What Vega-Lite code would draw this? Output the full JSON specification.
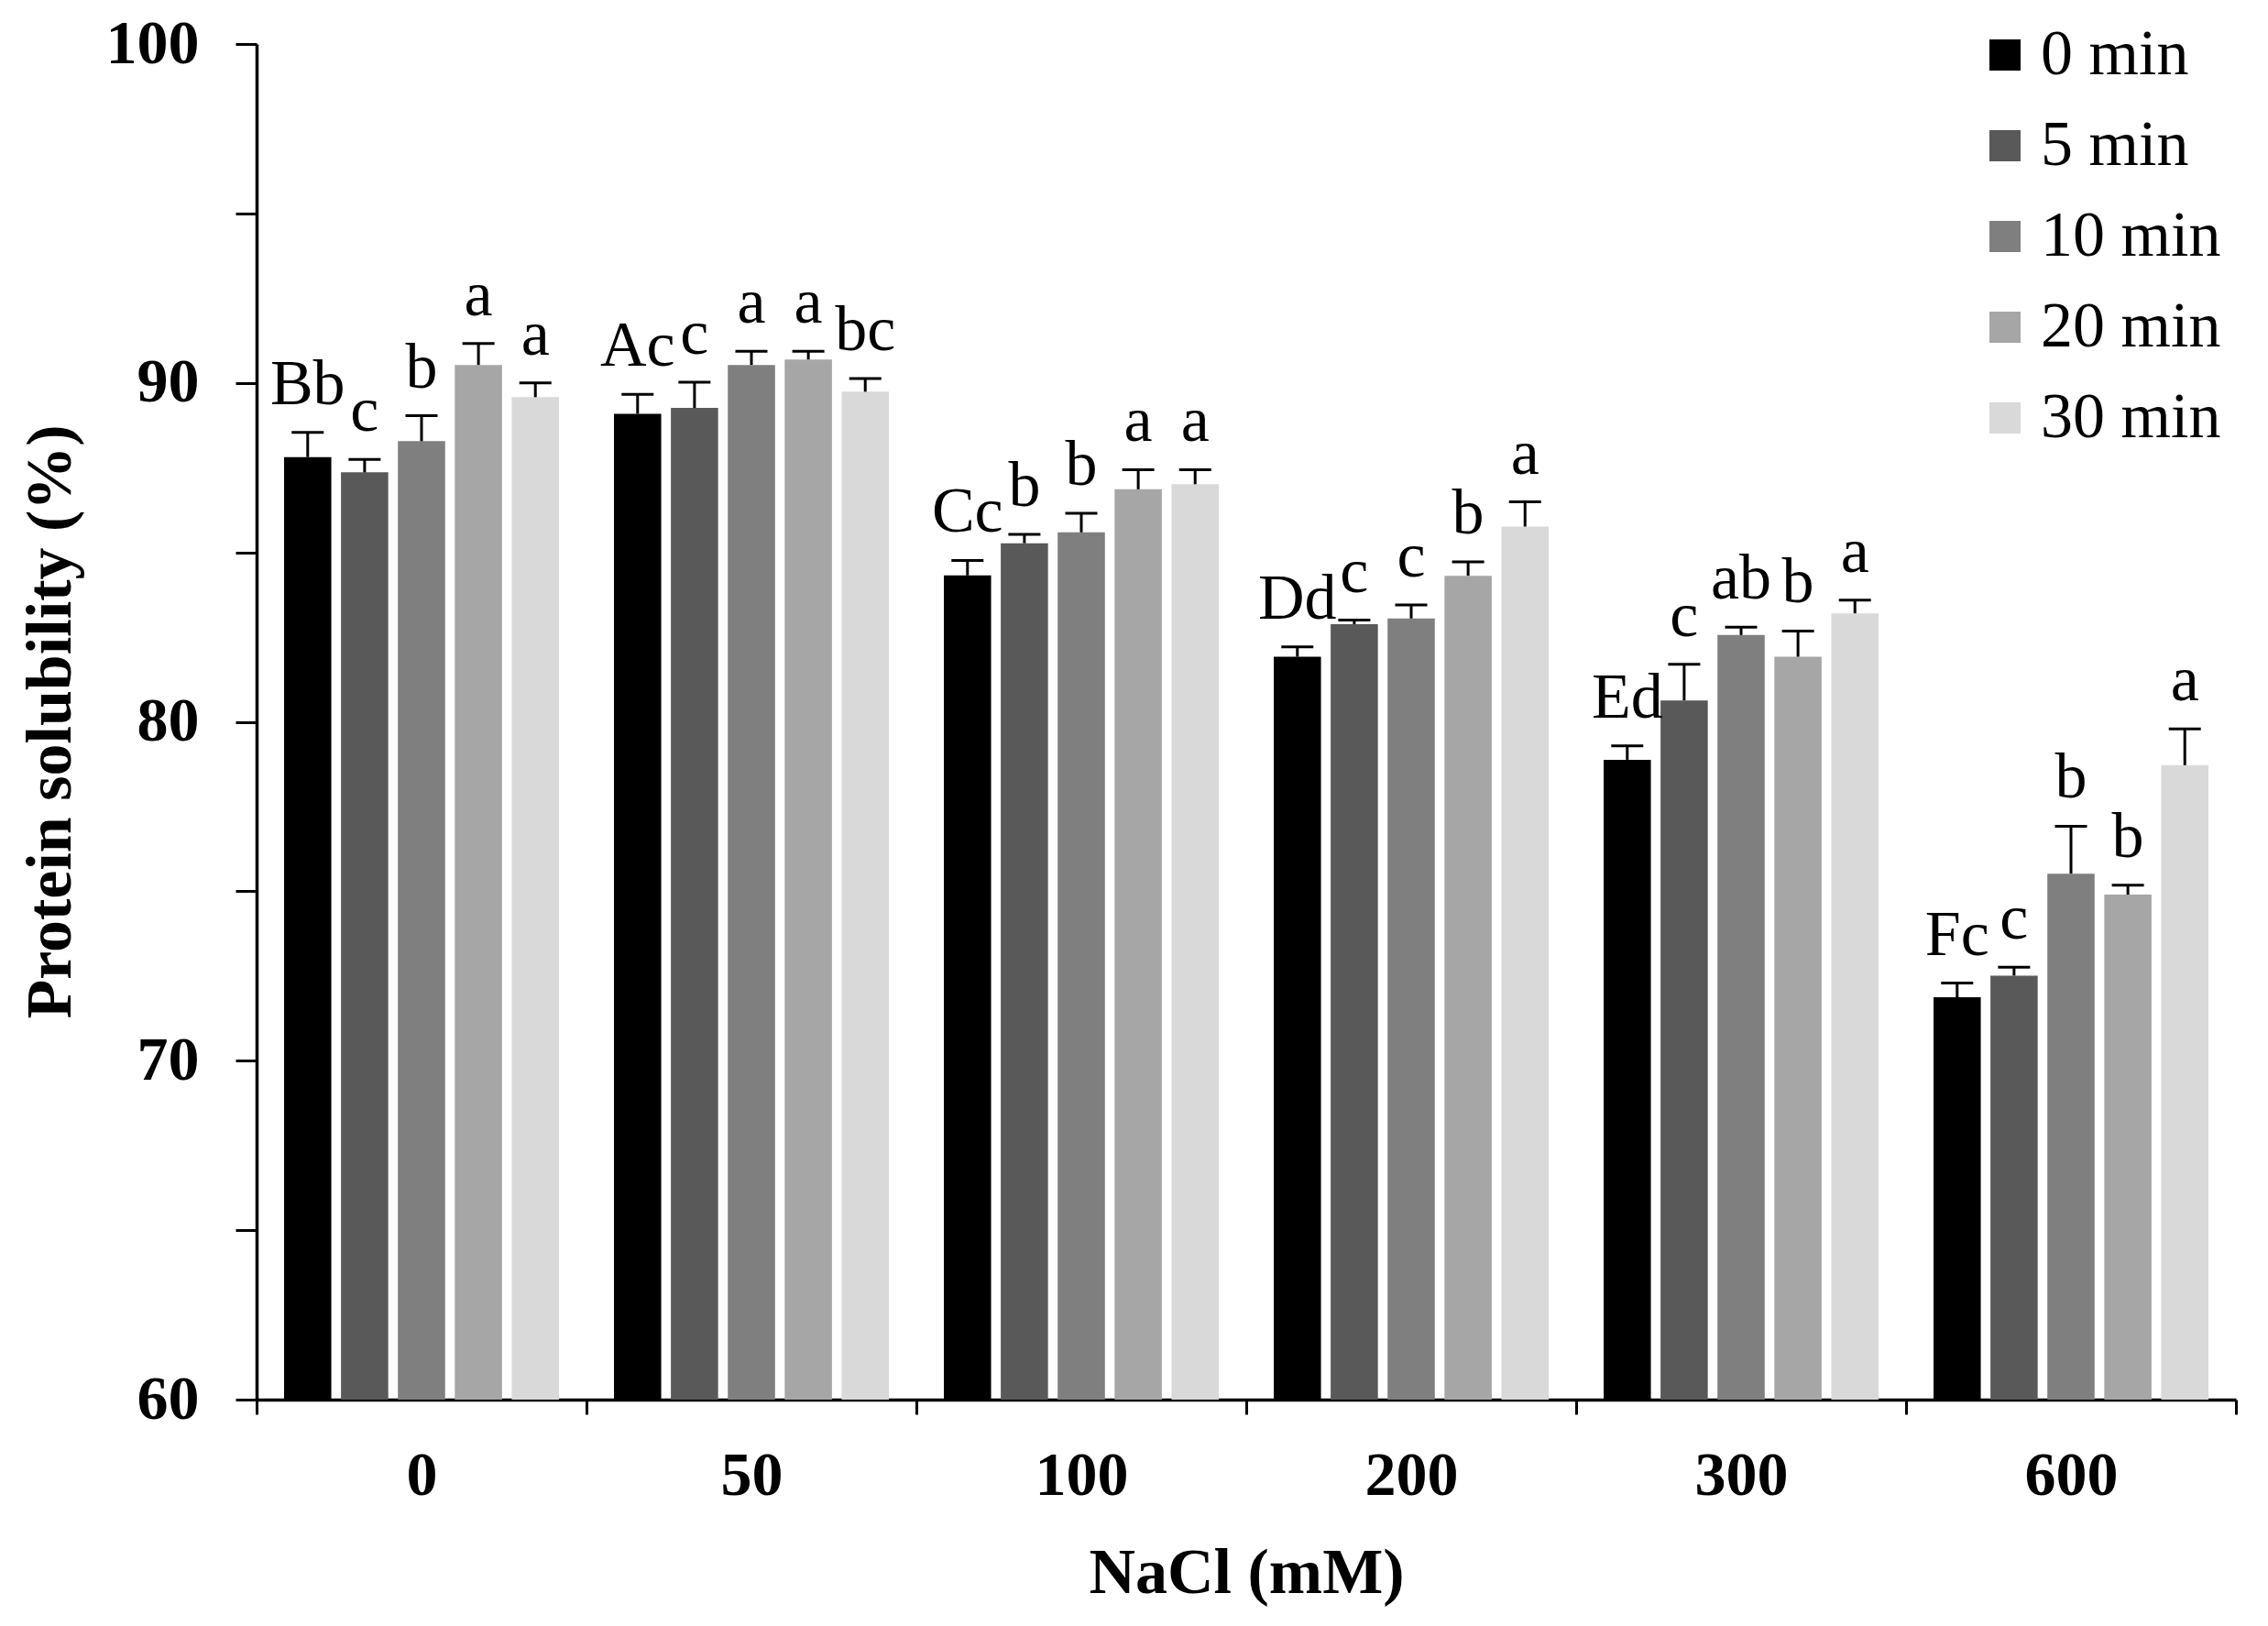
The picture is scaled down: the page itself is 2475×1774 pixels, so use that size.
{
  "$schema": "https://vega.github.io/schema/vega-lite/v6.json",
  "autosize": {"type": "none"},
  "width": 2160,
  "height": 1479,
  "padding": {"left": 280, "top": 48, "right": 35, "bottom": 247},
  "background": "white",
  "config": {
    "view": {"stroke": null},
    "font": "Liberation Serif",
    "axis": {"labelFont": "Liberation Serif", "titleFont": "Liberation Serif", "domainColor": "black", "tickColor": "black", "labelColor": "black", "titleColor": "black"},
    "legend": {"labelFont": "Liberation Serif"}
  },
  "data": {
    "values": [
      {"nacl": "0", "time": "0 min", "mean": 87.81, "upper": 88.54, "label": "Bb"},
      {"nacl": "0", "time": "5 min", "mean": 87.36, "upper": 87.74, "label": "c"},
      {"nacl": "0", "time": "10 min", "mean": 88.28, "upper": 89.03, "label": "b"},
      {"nacl": "0", "time": "20 min", "mean": 90.53, "upper": 91.16, "label": "a"},
      {"nacl": "0", "time": "30 min", "mean": 89.58, "upper": 90.0, "label": "a"},
      {"nacl": "50", "time": "0 min", "mean": 89.09, "upper": 89.66, "label": "Ac"},
      {"nacl": "50", "time": "5 min", "mean": 89.26, "upper": 90.02, "label": "c"},
      {"nacl": "50", "time": "10 min", "mean": 90.53, "upper": 90.93, "label": "a"},
      {"nacl": "50", "time": "20 min", "mean": 90.69, "upper": 90.93, "label": "a"},
      {"nacl": "50", "time": "30 min", "mean": 89.74, "upper": 90.13, "label": "bc"},
      {"nacl": "100", "time": "0 min", "mean": 84.32, "upper": 84.76, "label": "Cc"},
      {"nacl": "100", "time": "5 min", "mean": 85.27, "upper": 85.53, "label": "b"},
      {"nacl": "100", "time": "10 min", "mean": 85.59, "upper": 86.15, "label": "b"},
      {"nacl": "100", "time": "20 min", "mean": 86.86, "upper": 87.44, "label": "a"},
      {"nacl": "100", "time": "30 min", "mean": 87.01, "upper": 87.44, "label": "a"},
      {"nacl": "200", "time": "0 min", "mean": 81.92, "upper": 82.21, "label": "Dd"},
      {"nacl": "200", "time": "5 min", "mean": 82.88, "upper": 83.0, "label": "c"},
      {"nacl": "200", "time": "10 min", "mean": 83.05, "upper": 83.45, "label": "c"},
      {"nacl": "200", "time": "20 min", "mean": 84.31, "upper": 84.72, "label": "b"},
      {"nacl": "200", "time": "30 min", "mean": 85.76, "upper": 86.49, "label": "a"},
      {"nacl": "300", "time": "0 min", "mean": 78.88, "upper": 79.29, "label": "Ed"},
      {"nacl": "300", "time": "5 min", "mean": 80.63, "upper": 81.7, "label": "c"},
      {"nacl": "300", "time": "10 min", "mean": 82.56, "upper": 82.79, "label": "ab"},
      {"nacl": "300", "time": "20 min", "mean": 81.92, "upper": 82.68, "label": "b"},
      {"nacl": "300", "time": "30 min", "mean": 83.2, "upper": 83.59, "label": "a"},
      {"nacl": "600", "time": "0 min", "mean": 71.87, "upper": 72.29, "label": "Fc"},
      {"nacl": "600", "time": "5 min", "mean": 72.51, "upper": 72.76, "label": "c"},
      {"nacl": "600", "time": "10 min", "mean": 75.52, "upper": 76.92, "label": "b"},
      {"nacl": "600", "time": "20 min", "mean": 74.9, "upper": 75.18, "label": "b"},
      {"nacl": "600", "time": "30 min", "mean": 78.72, "upper": 79.79, "label": "a"}
    ]
  },
  "encoding": {
    "x": {
      "field": "nacl", "type": "nominal", "sort": ["0", "50", "100", "200", "300", "600"],
      "scale": {"paddingInner": 0, "paddingOuter": 0},
      "axis": {
        "title": "NaCl (mM)", "titleFontSize": 70, "titleFontWeight": "bold", "titleBaseline": "alphabetic", "titleY": 210,
        "labelAngle": 0, "labelFontSize": 68, "labelFontWeight": "bold", "labelBaseline": "alphabetic", "labelPadding": 87,
        "tickBand": "extent", "tickSize": 16, "tickWidth": 3, "domainWidth": 3.5, "grid": false
      }
    },
    "xOffset": {"field": "time", "type": "nominal", "sort": ["0 min", "5 min", "10 min", "20 min", "30 min"], "scale": {"paddingInner": 0.17, "paddingOuter": 0.483}}
  },
  "layer": [
    {
      "mark": {"type": "bar", "clip": true},
      "encoding": {
        "y": {
          "field": "mean", "type": "quantitative",
          "scale": {"domain": [60, 100], "zero": false, "nice": false},
          "axis": {
            "title": "Protein solubility (%)", "titleFontSize": 70, "titleFontWeight": "bold",
            "titleAngle": 270, "titleX": -225, "titleY": 739, "titleAlign": "center", "titleBaseline": "middle",
            "values": [60, 65, 70, 75, 80, 85, 90, 95, 100],
            "labelExpr": "datum.value % 10 === 0 ? datum.label : ''",
            "labelFontSize": 68, "labelFontWeight": "bold", "labelPadding": 40,
            "tickSize": 23, "tickWidth": 3, "domainWidth": 3.5, "grid": false
          }
        },
        "y2": {"datum": 60},
        "fill": {
          "field": "time", "type": "nominal", "sort": ["0 min", "5 min", "10 min", "20 min", "30 min"],
          "scale": {"domain": ["0 min", "5 min", "10 min", "20 min", "30 min"], "range": ["#000000", "#595959", "#7f7f7f", "#a6a6a6", "#d9d9d9"]},
          "legend": {
            "title": null, "orient": "none", "legendX": 1873, "legendY": -23,
            "symbolType": "square", "symbolSize": 1156, "symbolStrokeWidth": 0, "symbolOpacity": 1,
            "labelFontSize": 70, "labelOffset": 4, "labelLimit": 0, "rowPadding": 29, "padding": 0, "labelColor": "black"
          }
        }
      }
    },
    {
      "mark": {"type": "rule", "color": "black", "strokeWidth": 3},
      "encoding": {
        "y": {"field": "mean", "type": "quantitative"},
        "y2": {"field": "upper"}
      }
    },
    {
      "mark": {"type": "tick", "color": "black", "size": 35, "thickness": 3, "opacity": 1},
      "encoding": {
        "y": {"field": "upper", "type": "quantitative"}
      }
    },
    {
      "mark": {"type": "text", "fontSize": 70, "baseline": "alphabetic", "align": "center", "dy": -31, "color": "black"},
      "encoding": {
        "y": {"field": "upper", "type": "quantitative"},
        "text": {"field": "label"}
      }
    }
  ]
}
